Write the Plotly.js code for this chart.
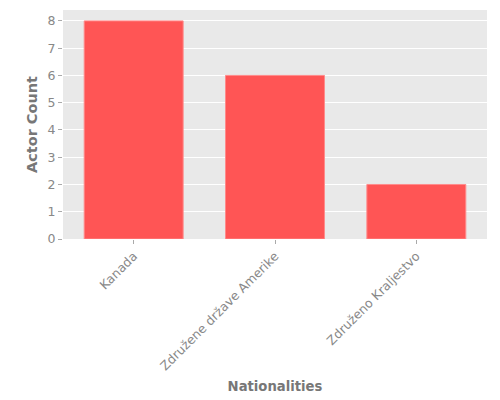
<!DOCTYPE html>
<html>
<head>
<meta charset="utf-8">
<script src="https://cdn.plot.ly/plotly-3.0.1.min.js"></script>
<style>html,body{margin:0;padding:0;background:#fff;}#chart{width:500px;height:400px;}</style>
</head>
<body>
<div id="chart"></div>
<script>
// données
const nationalities = ['Kanada', 'Združene države Amerike', 'Združeno Kraljestvo'];
const actorCounts = [8, 6, 2];

const grey = '#888888';

var data = [{
    type: 'bar',
    x: nationalities,
    y: actorCounts,
    width: 0.7,
    marker: {
        color: '#ff5555',
        line: { color: '#ff8a8a', width: 1 }
    },
    hoverinfo: 'x+y'
}];

var layout = {
    width: 500,
    height: 400,
    paper_bgcolor: '#ffffff',
    plot_bgcolor: '#e9e9e9',
    font: { family: 'DejaVu Sans', color: grey, size: 12.5 },
    margin: { l: 63, r: 13, t: 10, b: 161, pad: 0 },
    showlegend: false,
    xaxis: {
        tickangle: -45,
        ticks: 'outside',
        ticklen: 4,
        tickcolor: '#aaaaaa',
        showgrid: false,
        zeroline: false,
        tickfont: { size: 12.5, color: grey },
        title: { text: '<b>Nationalities</b>', font: { size: 13.2, color: '#777777' }, standoff: 9 }
    },
    yaxis: {
        range: [0, 8.4],
        dtick: 1,
        ticks: 'outside',
        ticklen: 4,
        tickcolor: '#aaaaaa',
        gridcolor: '#ffffff',
        gridwidth: 1,
        zeroline: false,
        tickfont: { size: 12.5, color: grey },
        title: { text: '<b>Actor Count</b>', font: { size: 14.5, color: '#777777' }, standoff: 6 }
    }
};

Plotly.newPlot('chart', data, layout, { displayModeBar: false, staticPlot: true });
</script>
</body>
</html>
